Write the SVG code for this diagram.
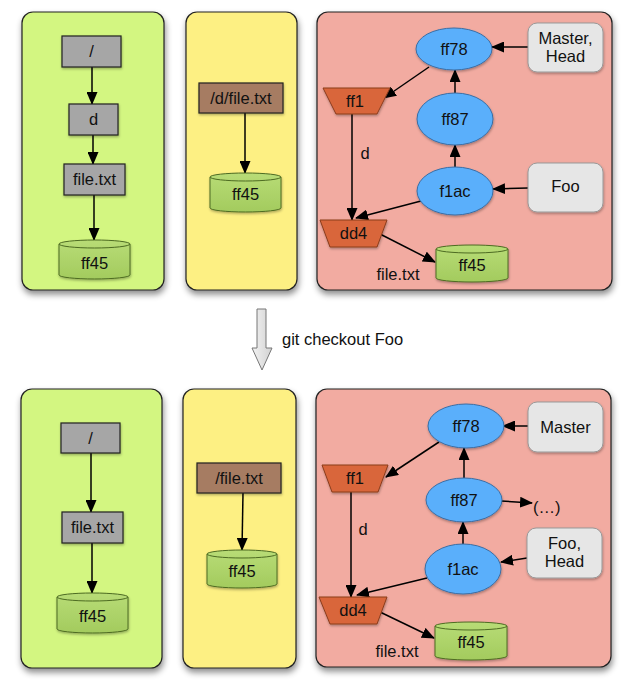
<svg xmlns="http://www.w3.org/2000/svg" width="639" height="689" viewBox="0 0 639 689">
<defs>
<filter id="sh" x="-10%" y="-10%" width="130%" height="130%"><feDropShadow dx="1" dy="4" stdDeviation="3" flood-color="#000" flood-opacity="0.45"/></filter>
<filter id="nsh" x="-20%" y="-20%" width="150%" height="150%"><feDropShadow dx="0.5" dy="1.5" stdDeviation="1" flood-color="#000" flood-opacity="0.3"/></filter>
<linearGradient id="cyl" x1="0" y1="0" x2="0" y2="1"><stop offset="0" stop-color="#b8dc76"/><stop offset="1" stop-color="#a3cb5e"/></linearGradient>
<linearGradient id="blk" x1="0" y1="0" x2="1" y2="0"><stop offset="0" stop-color="#f2f2f2"/><stop offset="1" stop-color="#d2d2d2"/></linearGradient>
<marker id="ah" markerUnits="userSpaceOnUse" markerWidth="13" markerHeight="11" refX="12" refY="5.5" orient="auto"><path d="M0,0 L13,5.5 L0,11 Z" fill="#000"/></marker>
</defs>
<style>
.pg{fill:#d3f681;stroke:#222;stroke-width:1.2;filter:url(#sh)}
.py{fill:#fdf083;stroke:#222;stroke-width:1.2;filter:url(#sh)}
.pr{fill:#f2aba1;stroke:#222;stroke-width:1.2;filter:url(#sh)}
.gb{fill:#a6a6a6;stroke:#222;stroke-width:1.2;filter:url(#nsh)}
.bb{fill:#a67b62;stroke:#222;stroke-width:1.2;filter:url(#nsh)}
.el{fill:#5aaffb;stroke:#3a6ea5;stroke-width:1;filter:url(#nsh)}
.tz{fill:#d9663a;stroke:#8a3c1c;stroke-width:1;filter:url(#nsh)}
.lb{fill:#e6e6e6;stroke:#999;stroke-width:1;filter:url(#nsh)}
.cy{fill:url(#cyl);stroke:#4d6b22;stroke-width:1;filter:url(#nsh)}
.cyt{fill:none;stroke:#4d6b22;stroke-width:1}
.e{fill:none;stroke:#000;stroke-width:1.5;marker-end:url(#ah)}
text{font-family:"Liberation Sans",Arial,Helvetica,sans-serif;font-size:16.5px;fill:#111;text-anchor:middle}
.lt{text-anchor:start}
</style>

<!-- panels -->
<g id="panel-tree-1"><rect class="pg" x="22" y="12" width="142" height="278" rx="11"/></g>
<g id="panel-index-1"><rect class="py" x="186" y="12" width="111" height="278" rx="11"/></g>
<g id="panel-repo-1"><rect class="pr" x="317" y="12" width="295" height="278" rx="11"/></g>
<g id="panel-tree-2"><rect class="pg" x="21" y="389" width="141" height="279" rx="11"/></g>
<g id="panel-index-2"><rect class="py" x="183" y="389" width="113" height="279" rx="11"/></g>
<g id="panel-repo-2"><rect class="pr" x="316" y="389" width="295" height="278" rx="11"/></g>

<!-- connectors -->
<g id="connectors">
<line class="e" x1="92" y1="67" x2="92" y2="104"/>
<line class="e" x1="93" y1="135" x2="93" y2="164"/>
<line class="e" x1="94" y1="195" x2="94" y2="240"/>
<line class="e" x1="245" y1="113" x2="245" y2="173"/>
<line class="e" x1="528" y1="47" x2="492" y2="47"/>
<line class="e" x1="455" y1="93" x2="455" y2="70"/>
<line class="e" x1="455" y1="167" x2="455" y2="145"/>
<line class="e" x1="528" y1="188" x2="493" y2="189"/>
<line class="e" x1="429" y1="67" x2="384" y2="98"/>
<line class="e" x1="352" y1="114" x2="352" y2="220"/>
<line class="e" x1="421" y1="201" x2="356" y2="218"/>
<line class="e" x1="380" y1="234" x2="435" y2="262"/>

<line class="e" x1="91" y1="453" x2="91" y2="512"/>
<line class="e" x1="92" y1="543" x2="92" y2="593"/>
<line class="e" x1="243" y1="493" x2="242" y2="550"/>
<line class="e" x1="528" y1="426" x2="503" y2="426"/>
<line class="e" x1="464" y1="478" x2="464" y2="448"/>
<line class="e" x1="501" y1="501" x2="532" y2="503"/>
<line class="e" x1="463" y1="544" x2="463" y2="522"/>
<line class="e" x1="527" y1="558" x2="501" y2="562"/>
<line class="e" x1="439" y1="442" x2="386" y2="477"/>
<line class="e" x1="351" y1="492" x2="351" y2="597"/>
<line class="e" x1="427" y1="578" x2="357" y2="595"/>
<line class="e" x1="380" y1="612" x2="434" y2="638"/>
</g>

<!-- edge labels -->
<g id="edge-labels">
<text x="365" y="159">d</text>
<text x="398" y="280">file.txt</text>
<text x="363" y="535">d</text>
<text x="397" y="657">file.txt</text>
<text class="lt" x="533" y="513">(…)</text>
</g>

<!-- top: working tree -->
<g id="t1-root"><rect class="gb" x="62" y="36" width="59" height="31"/><text x="91.5" y="57">/</text></g>
<g id="t1-d"><rect class="gb" x="69" y="104" width="49" height="31"/><text x="93.5" y="125">d</text></g>
<g id="t1-file"><rect class="gb" x="64" y="164" width="61" height="31"/><text x="94.5" y="185">file.txt</text></g>
<g id="t1-ff45"><path class="cy" d="M59,244 A35.5,4 0 0 1 130,244 L130,275 A35.5,4 0 0 1 59,275 Z"/><path class="cyt" d="M59,244 A35.5,4 0 0 0 130,244"/><text x="94.5" y="269">ff45</text></g>

<!-- top: index -->
<g id="i1-path"><rect class="bb" x="199" y="83" width="84" height="30"/><text x="241" y="104">/d/file.txt</text></g>
<g id="i1-ff45"><path class="cy" d="M210,177 A35.5,4 0 0 1 281,177 L281,208 A35.5,4 0 0 1 210,208 Z"/><path class="cyt" d="M210,177 A35.5,4 0 0 0 281,177"/><text x="245.5" y="200">ff45</text></g>

<!-- top: repository -->
<g id="r1-ff78"><ellipse class="el" cx="454" cy="49" rx="38" ry="21"/><text x="454" y="55">ff78</text></g>
<g id="r1-master"><rect class="lb" x="528" y="23" width="75" height="49" rx="9"/><text x="565.5" y="44">Master,</text><text x="565.5" y="62">Head</text></g>
<g id="r1-ff1"><path class="tz" d="M323,88 L390,88 L377,114 L336,114 Z"/><text x="355" y="107">ff1</text></g>
<g id="r1-ff87"><ellipse class="el" cx="455" cy="119" rx="38" ry="26"/><text x="455" y="125">ff87</text></g>
<g id="r1-f1ac"><ellipse class="el" cx="455" cy="191" rx="38" ry="24"/><text x="455" y="197">f1ac</text></g>
<g id="r1-foo"><rect class="lb" x="528" y="163" width="75" height="49" rx="9"/><text x="565.5" y="192">Foo</text></g>
<g id="r1-dd4"><path class="tz" d="M320,220 L387,220 L377,247 L330,247 Z"/><text x="353.5" y="239">dd4</text></g>
<g id="r1-ff45"><path class="cy" d="M436,249 A36,4 0 0 1 508,249 L508,278 A36,4 0 0 1 436,278 Z"/><path class="cyt" d="M436,249 A36,4 0 0 0 508,249"/><text x="472" y="271">ff45</text></g>

<!-- middle block arrow -->
<g id="checkout-arrow"><path d="M257,309 L266,309 L266,348 L272,348 L262,370 L252,348 L257,348 Z" fill="url(#blk)" stroke="#777" stroke-width="1"/><text class="lt" x="282" y="345">git checkout Foo</text></g>

<!-- bottom: working tree -->
<g id="t2-root"><rect class="gb" x="61" y="423" width="59" height="30"/><text x="90.5" y="444">/</text></g>
<g id="t2-file"><rect class="gb" x="62" y="512" width="61" height="31"/><text x="92.5" y="533">file.txt</text></g>
<g id="t2-ff45"><path class="cy" d="M57,597 A35.5,4 0 0 1 128,597 L128,629 A35.5,4 0 0 1 57,629 Z"/><path class="cyt" d="M57,597 A35.5,4 0 0 0 128,597"/><text x="92.5" y="622">ff45</text></g>

<!-- bottom: index -->
<g id="i2-path"><rect class="bb" x="197" y="463" width="84" height="30"/><text x="239" y="484">/file.txt</text></g>
<g id="i2-ff45"><path class="cy" d="M207,554 A35,4 0 0 1 277,554 L277,584 A35,4 0 0 1 207,584 Z"/><path class="cyt" d="M207,554 A35,4 0 0 0 277,554"/><text x="242" y="577">ff45</text></g>

<!-- bottom: repository -->
<g id="r2-ff78"><ellipse class="el" cx="466" cy="426" rx="38" ry="22"/><text x="466" y="432">ff78</text></g>
<g id="r2-master"><rect class="lb" x="528" y="402" width="75" height="50" rx="9"/><text x="565.5" y="433">Master</text></g>
<g id="r2-ff1"><path class="tz" d="M322,465 L388,465 L378,492 L332,492 Z"/><text x="355" y="484">ff1</text></g>
<g id="r2-ff87"><ellipse class="el" cx="464" cy="500" rx="38" ry="22"/><text x="464" y="506">ff87</text></g>
<g id="r2-f1ac"><ellipse class="el" cx="463" cy="569" rx="38" ry="25"/><text x="463" y="575">f1ac</text></g>
<g id="r2-foohead"><rect class="lb" x="527" y="528" width="75" height="50" rx="9"/><text x="564.5" y="549">Foo,</text><text x="564.5" y="567">Head</text></g>
<g id="r2-dd4"><path class="tz" d="M319,597 L387,597 L377,624 L330,624 Z"/><text x="353" y="616">dd4</text></g>
<g id="r2-ff45"><path class="cy" d="M435,626 A36,4 0 0 1 507,626 L507,656 A36,4 0 0 1 435,656 Z"/><path class="cyt" d="M435,626 A36,4 0 0 0 507,626"/><text x="471" y="648">ff45</text></g>
</svg>
